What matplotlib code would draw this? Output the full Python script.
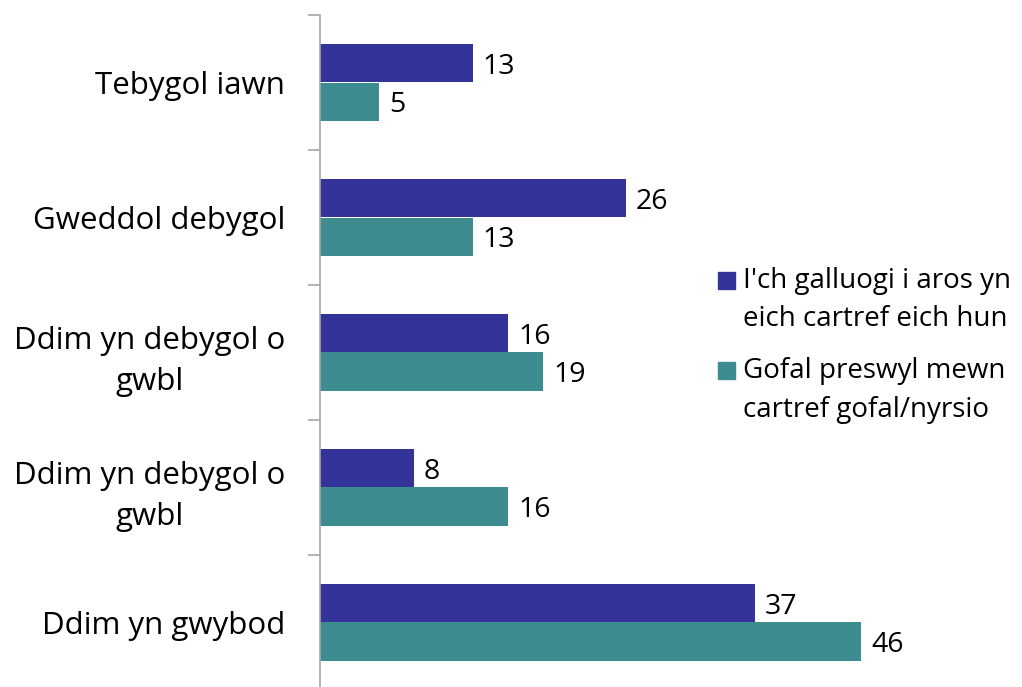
import numpy as np
import matplotlib
matplotlib.use("Agg")
import matplotlib.pyplot as plt
from matplotlib.patches import Rectangle

plt.rcParams['font.family'] = ['Open Sans', 'DejaVu Sans']

categories = ["Tebygol iawn", "Gweddol debygol", "Ddim yn debygol o\ngwbl",
              "Ddim yn debygol o\ngwbl", "Ddim yn gwybod"]
series_names = ["I'ch galluogi i aros yn\neich cartref eich hun",
                "Gofal preswyl mewn\ncartref gofal/nyrsio"]
home_values = [13, 26, 16, 8, 37]
care_values = [5, 13, 19, 16, 46]

BLUE = "#343399"
TEAL = "#3d8c90"
W, H = 1022, 687

fig = plt.figure(figsize=(W / 100, H / 100), dpi=100)
ax = fig.add_axes([320 / W, 1 - 690 / H, 588 / W, 675 / H])

y = np.arange(len(categories))
bh = 0.287
ax.barh(y - bh / 2, home_values, height=bh, color=BLUE)
ax.barh(y + bh / 2, care_values, height=bh, color=TEAL)

for yi, v in zip(y, home_values):
    ax.text(v + 0.85, yi - bh / 2, str(v), va="center_baseline", ha="left", fontsize=20.5)
for yi, v in zip(y, care_values):
    ax.text(v + 0.85, yi + bh / 2, str(v), va="center_baseline", ha="left", fontsize=20.5)

ax.set_xlim(0, 50)
ax.set_ylim(len(categories) - 0.5, -0.5)
ax.set_yticks(y)
ax.set_yticklabels(categories, fontsize=22.5, multialignment="center", linespacing=1.5)
ax.tick_params(axis="y", which="major", length=0, pad=25)
ax.set_yticks(np.arange(len(categories) + 1) - 0.5, minor=True)
ax.tick_params(axis="y", which="minor", length=8.6, width=1.2, color="#a6a6a6")
ax.set_xticks([])
for s in ["top", "right", "bottom"]:
    ax.spines[s].set_visible(False)
ax.spines["left"].set_color("#a6a6a6")
ax.spines["left"].set_linewidth(1.2)

# legend
for i, (name, col) in enumerate(zip(series_names, [BLUE, TEAL])):
    ytop = 280 + i * 90
    fig.patches.append(Rectangle((718 / W, 1 - (ytop + 9) / H), 17 / W, 17 / H,
                                 transform=fig.transFigure, color=col))
    fig.text(743 / W, 1 - (ytop - 13) / H, name, ha="left", va="top",
             fontsize=20, linespacing=1.5)

fig.savefig("out.png", dpi=100)
